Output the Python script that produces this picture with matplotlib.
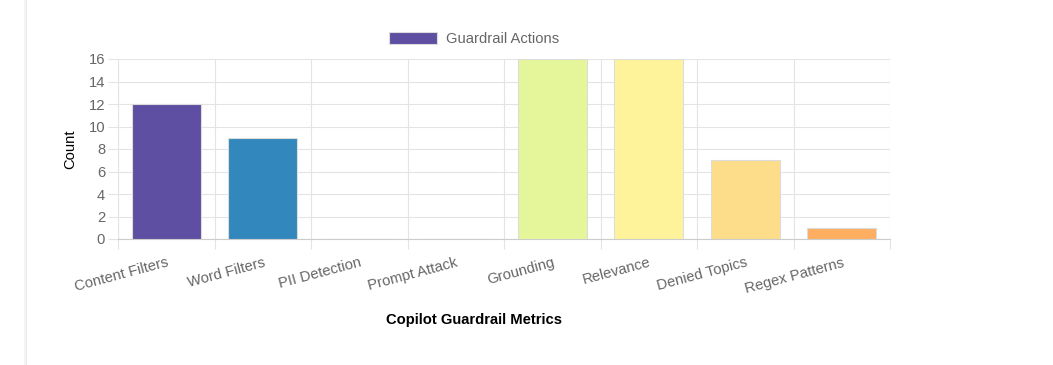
import numpy as np
import matplotlib.pyplot as plt
from matplotlib.lines import Line2D

plt.rcParams['font.family'] = ['Liberation Sans', 'DejaVu Sans']

categories = ['Content Filters', 'Word Filters', 'PII Detection', 'Prompt Attack',
              'Grounding', 'Relevance', 'Denied Topics', 'Regex Patterns']
counts = [12, 9, 0, 0, 16, 16, 7, 1]
bar_colors = ['#5e4fa2', '#3288bd', '#66c2a5', '#abdda4',
              '#e5f59a', '#fef39a', '#fddd8a', '#fdae61']
y_ticks = [0, 2, 4, 6, 8, 10, 12, 14, 16]

W, H = 1053, 365
fs = 10.6
fig = plt.figure(figsize=(W / 100, H / 100), dpi=100)

# panel border on the left
fig.add_artist(Line2D([26 / W, 26 / W], [0, 1], color='#e6e6e6', lw=1.2))
fig.add_artist(Line2D([24.5 / W, 24.5 / W], [0, 1], color='#f4f4f4', lw=1.5))

ax = fig.add_axes([118 / W, (H - 239) / H, 772 / W, 180 / H])
x = np.arange(len(categories))
ax.bar(x, counts, width=0.72, color=bar_colors, edgecolor='#dcdcdc',
       linewidth=0.8, label='Guardrail Actions', zorder=3)

ax.set_xlim(-0.5, len(categories) - 0.5)
ax.set_ylim(0, 16)
ax.set_yticks(y_ticks)
ax.set_xticks(x)
ax.set_xticks(np.arange(len(categories) + 1) - 0.5, minor=True)
ax.set_xticklabels(categories, rotation=15, ha='right', rotation_mode='anchor')

grid_c = '#e4e4e4'
ax.grid(True, axis='y', color=grid_c, lw=0.8, zorder=0)
ax.grid(True, axis='x', which='minor', color=grid_c, lw=0.8, zorder=0)
ax.tick_params(axis='x', which='major', length=0, pad=12, labelsize=fs, labelcolor='#666666')
ax.tick_params(axis='x', which='minor', length=7.2, width=0.8, color=grid_c)
ax.tick_params(axis='y', length=7.2, width=0.8, color=grid_c, pad=2,
               labelsize=fs, labelcolor='#666666')

for s in ['top', 'right']:
    ax.spines[s].set_visible(False)
ax.spines['left'].set_color(grid_c)
ax.spines['bottom'].set_color('#cccccc')
ax.spines['left'].set_linewidth(0.8)
ax.spines['bottom'].set_linewidth(0.8)

ax.set_ylabel('Count', fontsize=fs, color='black', labelpad=8)
fig.text(474 / W, 1 - 320 / H, 'Copilot Guardrail Metrics', ha='center', va='center',
         fontsize=fs, fontweight='bold', color='black')

leg = fig.legend(loc='center', bbox_to_anchor=(474 / W, 1 - 39 / H), frameon=False,
                 fontsize=fs, handlelength=3.3, handleheight=0.95, handletextpad=0.6,
                 labelcolor='#666666')

fig.savefig('out.png', dpi=100)
